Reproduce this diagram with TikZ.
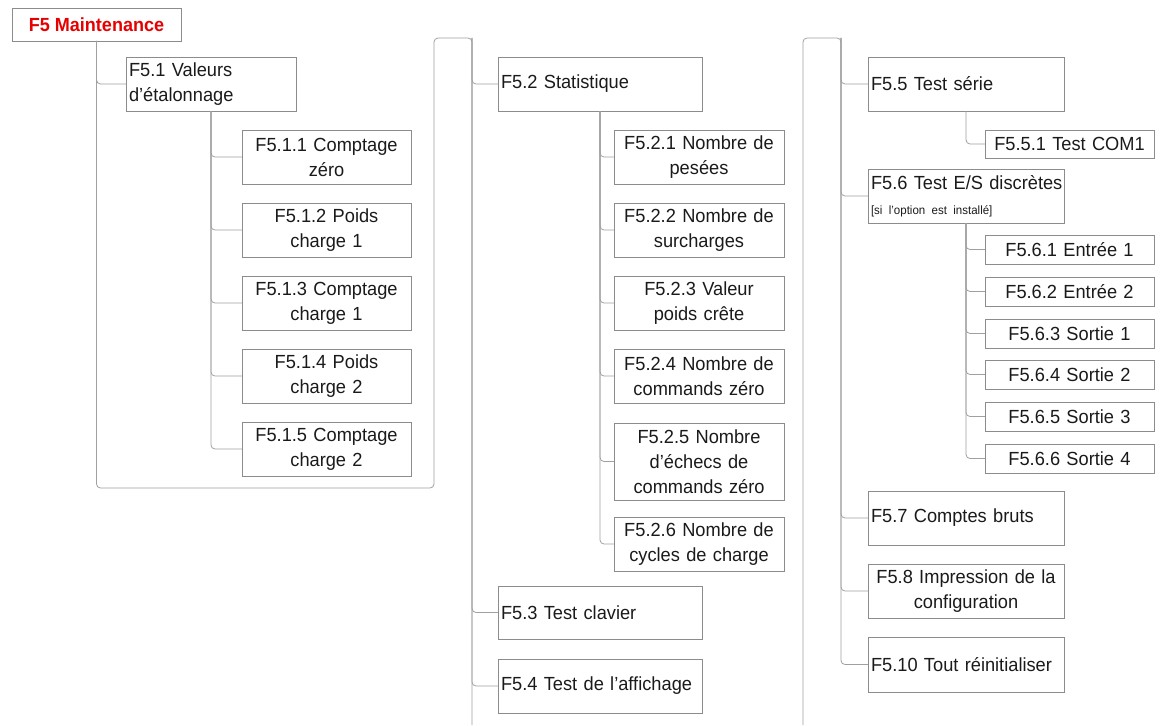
\documentclass[tikz,border=0pt]{standalone}
\usepackage{fontspec}
\setmainfont{Liberation Sans}[FakeStretch=0.96, WordSpace=0.85]
\newfontfamily\rootfont{Liberation Sans}[FakeStretch=0.95]
\definecolor{boxgray}{HTML}{8C8C8C}
\definecolor{linegray}{HTML}{A0A0A0}
\definecolor{txt}{HTML}{1A1A1A}
\definecolor{rootred}{HTML}{E60000}
\newcommand{\fs}{\fontsize{19}{25}\selectfont}
\newcommand{\smalltxt}{\fontsize{12}{14}\selectfont}
\tikzset{
  box/.style={draw=boxgray, line width=0.8pt, inner ysep=0pt, outer sep=0pt,
    anchor=north west, font=\fs, text=txt},
  lbox/.style={box, align=left, inner xsep=3pt},
  cbox/.style={box, align=center, inner xsep=2pt},
  conn/.style={draw=linegray, line width=0.8pt, rounded corners=4pt},
}
\begin{document}
\begin{tikzpicture}[x=1pt, y=-1pt]
\useasboundingbox (0,0) rectangle (1161,725);

% root
\node[box, minimum width=169pt, minimum height=33pt, font={\rootfont\fontsize{19}{23}\selectfont\bfseries}, text=rootred] (root) at (12,8) {F5 Maintenance};

% column 1
\node[lbox, minimum width=170pt, minimum height=54pt, text width=164pt] (f51) at (126,57) {F5.1 Valeurs\\d’étalonnage};
\node[cbox, minimum width=169pt, minimum height=54pt, text width=165pt] (f511) at (242,130) {F5.1.1 Comptage\\zéro};
\node[cbox, minimum width=169pt, minimum height=54pt, text width=165pt] (f512) at (242,203) {F5.1.2 Poids\\charge 1};
\node[cbox, minimum width=169pt, minimum height=54pt, text width=165pt] (f513) at (242,276) {F5.1.3 Comptage\\charge 1};
\node[cbox, minimum width=169pt, minimum height=54pt, text width=165pt] (f514) at (242,349) {F5.1.4 Poids\\charge 2};
\node[cbox, minimum width=169pt, minimum height=54pt, text width=165pt] (f515) at (242,422) {F5.1.5 Comptage\\charge 2};

% column 2
\node[lbox, minimum width=204pt, minimum height=54pt, text width=198pt] (f52) at (498,57) {F5.2 Statistique};
\node[cbox, minimum width=170pt, minimum height=54pt, text width=166pt] (f521) at (614,130) {F5.2.1 Nombre de\\pesées};
\node[cbox, minimum width=170pt, minimum height=54pt, text width=166pt] (f522) at (614,203) {F5.2.2 Nombre de\\surcharges};
\node[cbox, minimum width=170pt, minimum height=54pt, text width=166pt] (f523) at (614,276) {F5.2.3 Valeur\\poids crête};
\node[cbox, minimum width=170pt, minimum height=54pt, text width=166pt] (f524) at (614,349) {F5.2.4 Nombre de\\commands zéro};
\node[cbox, minimum width=170pt, minimum height=77pt, text width=166pt] (f525) at (614,423) {F5.2.5 Nombre\\d’échecs de\\commands zéro};
\node[cbox, minimum width=170pt, minimum height=54pt, text width=166pt] (f526) at (614,517) {F5.2.6 Nombre de\\cycles de charge};
\node[lbox, minimum width=204pt, minimum height=53pt, text width=198pt] (f53) at (498,586) {F5.3 Test clavier};
\node[lbox, minimum width=204pt, minimum height=54pt, text width=198pt] (f54) at (498,659) {\mbox{F5.4 Test de l’affichage}};

% column 3
\node[lbox, minimum width=196pt, minimum height=54pt, text width=190pt] (f55) at (868,57) {F5.5 Test série};
\node[cbox, minimum width=169pt, minimum height=28pt, text width=165pt] (f551) at (985,130) {F5.5.1 Test COM1};
\node[lbox, minimum width=196pt, minimum height=54pt, text width=190pt] (f56) at (868,169) {\mbox{F5.6 Test E/S discrètes}\\{\smalltxt [si l’option est installé]}};
\node[cbox, minimum width=169pt, minimum height=29pt, text width=165pt] (f561) at (985,235) {F5.6.1 Entrée 1};
\node[cbox, minimum width=169pt, minimum height=29pt, text width=165pt] (f562) at (985,277) {F5.6.2 Entrée 2};
\node[cbox, minimum width=169pt, minimum height=29pt, text width=165pt] (f563) at (985,319) {F5.6.3 Sortie 1};
\node[cbox, minimum width=169pt, minimum height=29pt, text width=165pt] (f564) at (985,360) {F5.6.4 Sortie 2};
\node[cbox, minimum width=169pt, minimum height=29pt, text width=165pt] (f565) at (985,402) {F5.6.5 Sortie 3};
\node[cbox, minimum width=169pt, minimum height=29pt, text width=165pt] (f566) at (985,444) {F5.6.6 Sortie 4};
\node[lbox, minimum width=196pt, minimum height=54pt, text width=190pt] (f57) at (868,491) {F5.7 Comptes bruts};
\node[cbox, minimum width=196pt, minimum height=54pt, text width=192pt] (f58) at (868,564) {F5.8 Impression de la\\configuration};
\node[lbox, minimum width=196pt, minimum height=55pt, text width=190pt] (f510) at (868,637) {F5.10 Tout réinitialiser};

% trunk coordinates
\coordinate (t1) at (434,488);
\coordinate (t2) at (472,38);
\coordinate (t3) at (472,725);
\coordinate (u0) at (803,725);
\coordinate (u1) at (841,38);

% connectors: root
\draw[conn] (root.south) |- (f51.west);
\draw[conn] (root.south) |- (t1) |- (t2) -- (t3);
% column 1 children
\foreach \c in {f511,f512,f513,f514,f515}
  \draw[conn] (f51.south) |- (\c.west);
% column 2
\foreach \c in {f52,f53,f54}
  \draw[conn] (t2) |- (\c.west);
\foreach \c in {f521,f522,f523,f524,f525,f526}
  \draw[conn] (f52.south) |- (\c.west);
% column 3
\draw[conn] (u0) |- (u1) |- (f510.west);
\foreach \c in {f55,f56,f57,f58}
  \draw[conn] (u1) |- (\c.west);
\draw[conn] (f55.south) |- (f551.west);
\foreach \c in {f561,f562,f563,f564,f565,f566}
  \draw[conn] (f56.south) |- (\c.west);
\end{tikzpicture}
\end{document}
